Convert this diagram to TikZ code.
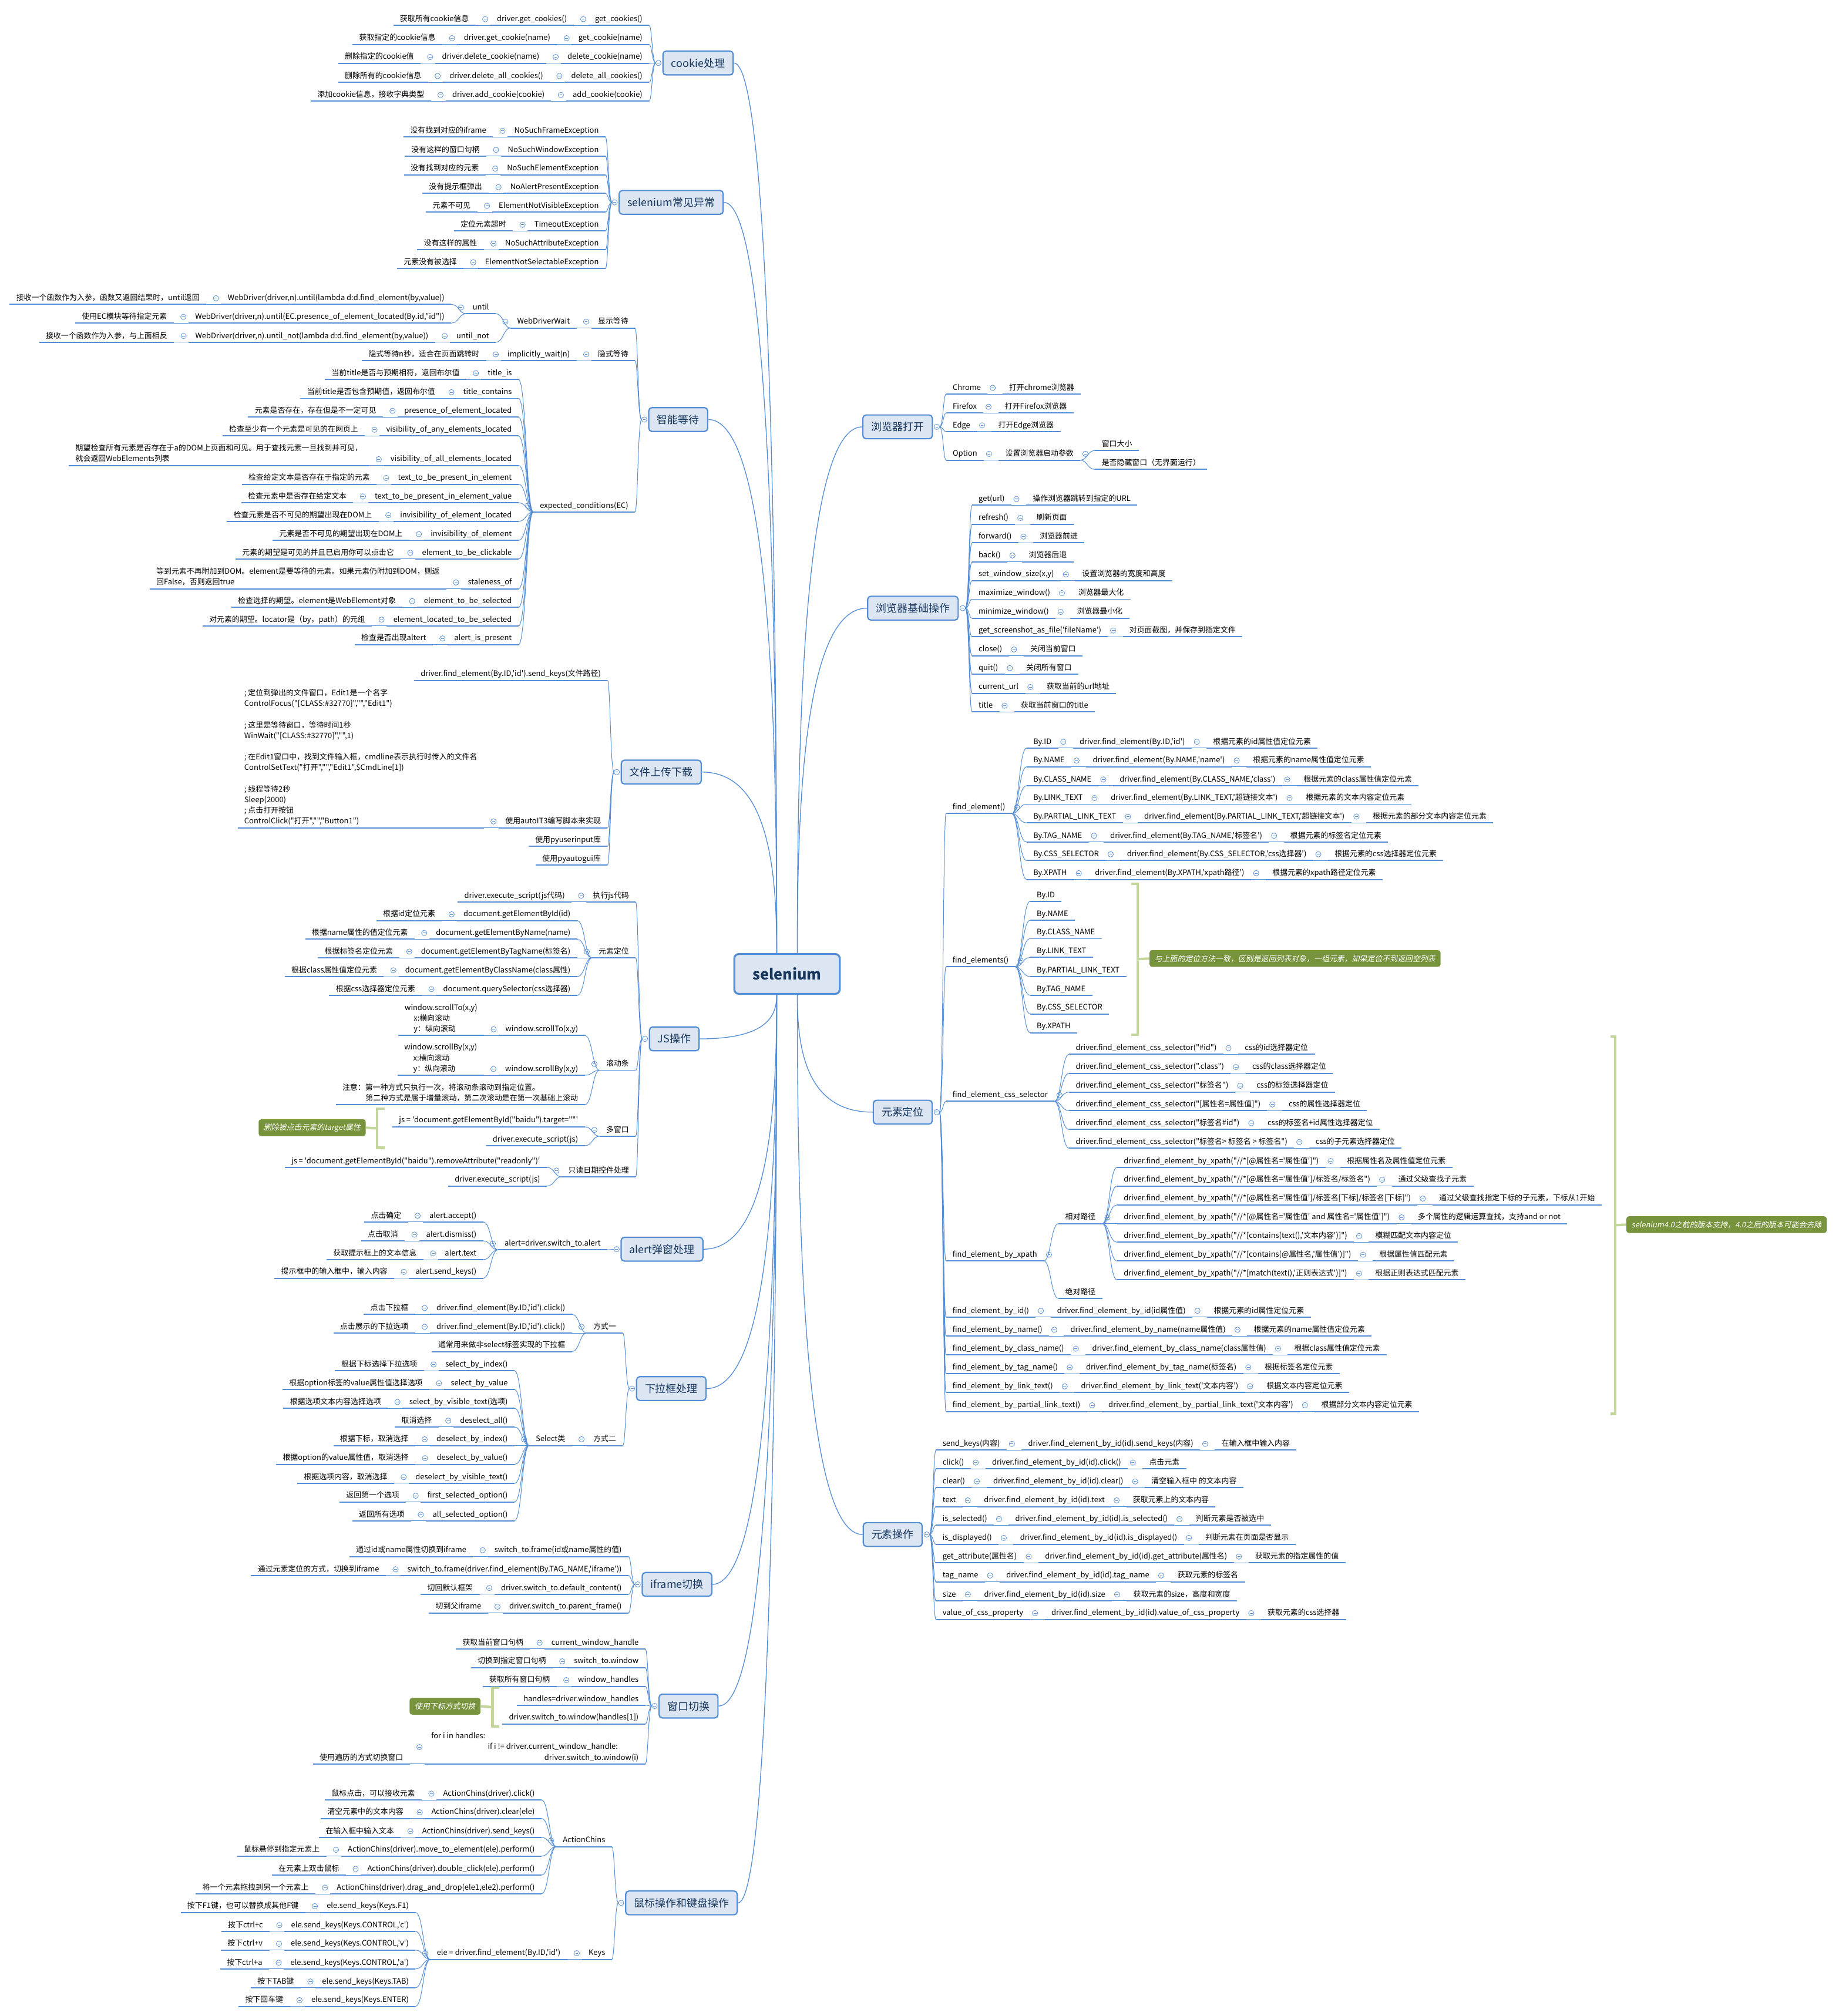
\documentclass[tikz,border=0pt]{standalone}
\usepackage{fontspec}
\newfontfamily\cjk{Noto Sans CJK SC}
\newfontfamily\cjki{Noto Sans CJK SC}[FakeSlant=0.2]
\definecolor{ln}{RGB}{83,141,213}
\definecolor{bfill}{RGB}{220,230,242}
\definecolor{btext}{RGB}{23,54,93}
\definecolor{gfill}{RGB}{119,147,60}
\definecolor{brc}{RGB}{195,214,155}
\newcommand\ms{\rule[-1.4pt]{0pt}{6.3pt}}
\newcommand\nl{\\\ms}
\tikzset{
 mmtext/.style={font=\cjk\fontsize{5.9}{8.3}\selectfont, inner xsep=5pt, inner ysep=1.5pt, align=left, text=black},
 mmul/.style={draw=ln, line width=0.9pt},
 mmcn/.style={draw=ln, line width=0.45pt},
 mmmain/.style={draw=ln, line width=0.6pt},
 mmcirc/.style={draw=ln, fill=white, line width=0.35pt},
 mmminus/.style={draw=ln, line width=0.35pt},
 mmbox/.style={draw=ln, line width=1pt, fill=bfill, rounded corners=2.5pt, font=\cjk\fontsize{8.2}{10}\selectfont, text=btext, inner xsep=6.5pt, minimum height=18.5pt},
 mmcbox/.style={draw=ln, line width=1.5pt, fill=bfill, rounded corners=3.5pt, font=\cjk\bfseries\fontsize{11.5}{13}\selectfont, text=btext, minimum width=82pt, minimum height=31pt},
 mmgbox/.style={fill=gfill, text=white, rounded corners=2pt, font=\cjki\fontsize{5.9}{8}\selectfont, inner xsep=4pt, minimum height=13pt},
 mmbrk/.style={draw=brc, line width=1.9pt},
}
\newcommand\cir[1]{\path #1 coordinate (cirtmp);\draw[mmcirc] (cirtmp) circle (2.1pt);\draw[mmminus] ([xshift=-1.1pt]cirtmp) -- ([xshift=1.1pt]cirtmp);}
\newcommand\LN[3]{\node[mmtext,anchor=south east] (#1) at #2 {\ms #3};\draw[mmul] (#1.south west)--(#1.south east);}
\newcommand\RN[3]{\node[mmtext,anchor=south west] (#1) at #2 {\ms #3};\draw[mmul] (#1.south west)--(#1.south east);}
\newcommand\LC[3]{\LN{#1}{([xshift=-11.5pt]#2.south west)}{#3}\draw[mmcn] (#1.south east)--(#2.south west);\cir{([xshift=-4pt]#2.west)}}
\newcommand\RC[3]{\RN{#1}{([xshift=11.5pt]#2.south east)}{#3}\draw[mmcn] (#2.south east)--(#1.south west);\cir{([xshift=4pt]#2.east)}}
\newcommand\BL[1]{\coordinate (#1-s) at ([xshift=-5.1pt]#1.west);\coordinate (#1-t) at ([xshift=-8pt]#1.west);\coordinate (#1-g) at ([xshift=-10.2pt]#1.west);\cir{([xshift=-3pt]#1.west)}}
\newcommand\BR[1]{\coordinate (#1-s) at ([xshift=5.1pt]#1.east);\coordinate (#1-t) at ([xshift=8pt]#1.east);\coordinate (#1-g) at ([xshift=10.2pt]#1.east);\cir{([xshift=3pt]#1.east)}}
\newcommand\NL[1]{\coordinate (#1-s) at (#1.south west);\coordinate (#1-t) at ([xshift=-5.5pt]#1.south west);\coordinate (#1-g) at ([xshift=-11.5pt]#1.south west);\cir{([xshift=-4pt]#1.west)}}
\newcommand\NR[1]{\coordinate (#1-s) at (#1.south east);\coordinate (#1-t) at ([xshift=5.5pt]#1.south east);\coordinate (#1-g) at ([xshift=11.5pt]#1.south east);\cir{([xshift=4pt]#1.east)}}
\newcommand\GL[4]{\LN{#2}{(#1-g |- 0,#3)}{#4}\draw[mmcn] (#1-s) .. controls (#1-s -| #1-t) and (#2.south east -| #1-t) .. (#2.south east);}
\newcommand\GR[4]{\RN{#2}{(#1-g |- 0,#3)}{#4}\draw[mmcn] (#1-s) .. controls (#1-s -| #1-t) and (#2.south west -| #1-t) .. (#2.south west);}
\newcommand\GLb[5]{\GL{#1}{#2}{#3}{#4}\LC{#2a}{#2}{#5}}
\newcommand\GLc[6]{\GL{#1}{#2}{#3}{#4}\LC{#2a}{#2}{#5}\LC{#2b}{#2a}{#6}}
\newcommand\GRb[5]{\GR{#1}{#2}{#3}{#4}\RC{#2a}{#2}{#5}}
\newcommand\GRc[6]{\GR{#1}{#2}{#3}{#4}\RC{#2a}{#2}{#5}\RC{#2b}{#2a}{#6}}
\begin{document}
\catcode`\_=12
\begin{tikzpicture}[x=1pt,y=-1pt]
\useasboundingbox (0,0) rectangle (1430,1568);
\fill[white] (0,0) rectangle (1430,1568);
\node[mmcbox] (sel) at (612,757.5) {selenium};
\coordinate (la) at ([xshift=-8pt]sel.north);
\coordinate (ra) at ([xshift=8pt]sel.north);
\coordinate (lb) at ([xshift=-8pt]sel.south);
\coordinate (rb) at ([xshift=8pt]sel.south);
% ---------- level-1 boxes
\node[mmbox,anchor=west] (ck) at (515,49) {cookie处理};
\node[mmbox,anchor=west] (ex) at (481,157.4) {selenium常见异常};
\node[mmbox,anchor=west] (wt) at (504,326.3) {智能等待};
\node[mmbox,anchor=west] (fu) at (482.6,600.5) {文件上传下载};
\node[mmbox,anchor=west] (js) at (504.5,808) {JS操作};
\node[mmbox,anchor=west] (al) at (482.5,971.6) {alert弹窗处理};
\node[mmbox,anchor=west] (dd) at (494.5,1080) {下拉框处理};
\node[mmbox,anchor=west] (if) at (498.9,1232.3) {iframe切换};
\node[mmbox,anchor=west] (wd) at (512,1326.9) {窗口切换};
\node[mmbox,anchor=west] (ms) at (486,1480) {鼠标操作和键盘操作};
\node[mmbox,anchor=east] (bo) at (725.5,332) {浏览器打开};
\node[mmbox,anchor=east] (bb) at (745.6,473) {浏览器基础操作};
\node[mmbox,anchor=east] (el) at (725.4,865) {元素定位};
\node[mmbox,anchor=east] (eo) at (717.6,1193.5) {元素操作};
% ---------- main connectors
\draw[mmmain] (ck.east) .. controls (598,49) and (604,430) .. (la);
\draw[mmmain] (ex.east) .. controls (598,157.4) and (604,479) .. (la);
\draw[mmmain] (wt.east) .. controls (598,326.3) and (604,555) .. (la);
\draw[mmmain] (fu.east) .. controls (598,600.5) and (604,678) .. (la);
\draw[mmmain] (js.east) .. controls (598,808) and (604,789) .. (lb);
\draw[mmmain] (al.east) .. controls (598,971.6) and (604,862) .. (lb);
\draw[mmmain] (dd.east) .. controls (598,1080) and (604,911) .. (lb);
\draw[mmmain] (if.east) .. controls (598,1232.3) and (604,980) .. (lb);
\draw[mmmain] (wd.east) .. controls (598,1326.9) and (604,1022) .. (lb);
\draw[mmmain] (ms.east) .. controls (598,1480) and (604,1091) .. (lb);
\draw[mmmain] (bo.west) .. controls (626,332) and (620,557) .. (ra);
\draw[mmmain] (bb.west) .. controls (626,473) and (620,621) .. (ra);
\draw[mmmain] (el.west) .. controls (626,865) and (620,814) .. (rb);
\draw[mmmain] (eo.west) .. controls (626,1193.5) and (620,962) .. (rb);
% ---------- cookie
\BL{ck}
\GLc{ck}{ckA}{19.8}{get_cookies()}{driver.get_cookies()}{获取所有cookie信息}
\GLc{ck}{ckB}{34.6}{get_cookie(name)}{driver.get_cookie(name)}{获取指定的cookie信息}
\GLc{ck}{ckC}{49.2}{delete_cookie(name)}{driver.delete_cookie(name)}{删除指定的cookie值}
\GLc{ck}{ckD}{64.0}{delete_all_cookies()}{driver.delete_all_cookies()}{删除所有的cookie信息}
\GLc{ck}{ckE}{78.7}{add_cookie(cookie)}{driver.add_cookie(cookie)}{添加cookie信息，接收字典类型}
% ---------- exceptions
\BL{ex}
\GLb{ex}{exA}{106.6}{NoSuchFrameException}{没有找到对应的iframe}
\GLb{ex}{exB}{121.4}{NoSuchWindowException}{没有这样的窗口句柄}
\GLb{ex}{exC}{136.0}{NoSuchElementException}{没有找到对应的元素}
\GLb{ex}{exD}{150.4}{NoAlertPresentException}{没有提示框弹出}
\GLb{ex}{exE}{164.9}{ElementNotVisibleException}{元素不可见}
\GLb{ex}{exF}{179.7}{TimeoutException}{定位元素超时}
\GLb{ex}{exG}{194.3}{NoSuchAttributeException}{没有这样的属性}
\GLb{ex}{exH}{208.9}{ElementNotSelectableException}{元素没有被选择}
% ---------- wait
\BL{wt}
\GLb{wt}{wtA}{255.1}{显示等待}{WebDriverWait}
\NL{wtAa}
\GL{wtAa}{wu}{244}{until}
\NL{wu}
\GLb{wu}{wuA}{236.8}{WebDriver(driver,n).until(lambda d:d.find_element(by,value))}{接收一个函数作为入参，函数又返回结果时，until返回}
\GLb{wu}{wuB}{251.3}{WebDriver(driver,n).until(EC.presence_of_element_located(By.id,"id"))}{使用EC模块等待指定元素}
\GLc{wtAa}{wn}{266.2}{until_not}{WebDriver(driver,n).until_not(lambda d:d.find_element(by,value))}{接收一个函数作为入参，与上面相反}
\GLc{wt}{wtB}{280.5}{隐式等待}{implicitly_wait(n)}{隐式等待n秒，适合在页面跳转时}
\GL{wt}{ec}{398.2}{expected_conditions(EC)}
\NL{ec}
\GLb{ec}{ecA}{295.1}{title_is}{当前title是否与预期相符，返回布尔值}
\GLb{ec}{ecB}{309.9}{title_contains}{当前title是否包含预期值，返回布尔值}
\GLb{ec}{ecC}{324.4}{presence_of_element_located}{元素是否存在，存在但是不一定可见}
\GLb{ec}{ecD}{339.1}{visibility_of_any_elements_located}{检查至少有一个元素是可见的在网页上}
\GLb{ec}{ecE}{362.0}{visibility_of_all_elements_located}{期望检查所有元素是否存在于a的DOM上页面和可见。用于查找元素一旦找到并可见，\nl 就会返回WebElements列表}
\GLb{ec}{ecF}{376.6}{text_to_be_present_in_element}{检查给定文本是否存在于指定的元素}
\GLb{ec}{ecG}{391.0}{text_to_be_present_in_element_value}{检查元素中是否存在给定文本}
\GLb{ec}{ecH}{405.5}{invisibility_of_element_located}{检查元素是否不可见的期望出现在DOM上}
\GLb{ec}{ecI}{420.3}{invisibility_of_element}{元素是否不可见的期望出现在DOM上}
\GLb{ec}{ecJ}{434.8}{element_to_be_clickable}{元素的期望是可见的并且已启用你可以点击它}
\GLb{ec}{ecK}{457.9}{staleness_of}{等到元素不再附加到DOM。element是要等待的元素。如果元素仍附加到DOM，则返\nl 回False，否则返回true}
\GLb{ec}{ecL}{472.4}{element_to_be_selected}{检查选择的期望。element是WebElement对象}
\GLb{ec}{ecM}{486.8}{element_located_to_be_selected}{对元素的期望。locator是（by，path）的元组}
\GLb{ec}{ecN}{501.4}{alert_is_present}{检查是否出现altert}
% ---------- file upload
\BL{fu}
\GL{fu}{fuA}{529.2}{driver.find_element(By.ID,'id').send_keys(文件路径)}
\GLb{fu}{fuB}{643.8}{使用autoIT3编写脚本来实现}{; 定位到弹出的文件窗口，Edit1是一个名字\nl ControlFocus("[CLASS:\#32770]","","Edit1")\nl\nl ; 这里是等待窗口，等待时间1秒\nl WinWait("[CLASS:\#32770]","",1)\nl\nl ; 在Edit1窗口中，找到文件输入框，cmdline表示执行时传入的文件名\nl ControlSetText("打开","","Edit1",\$CmdLine[1])\nl\nl ; 线程等待2秒\nl Sleep(2000)\nl ; 点击打开按钮\nl ControlClick("打开","","Button1")}
\GL{fu}{fuC}{658.3}{使用pyuserinput库}
\GL{fu}{fuD}{672.8}{使用pyautogui库}
% ---------- JS
\BL{js}
\GLb{js}{jsA}{701.5}{执行js代码}{driver.execute_script(js代码)}
\GL{js}{jsB}{745.0}{元素定位}
\NL{jsB}
\GLb{jsB}{jbA}{716.0}{document.getElementById(id)}{根据id定位元素}
\GLb{jsB}{jbB}{730.5}{document.getElementByName(name)}{根据name属性的值定位元素}
\GLb{jsB}{jbC}{745.0}{document.getElementByTagName(标签名)}{根据标签名定位元素}
\GLb{jsB}{jbD}{759.6}{document.getElementByClassName(class属性)}{根据class属性值定位元素}
\GLb{jsB}{jbE}{774.2}{document.querySelector(css选择器)}{根据css选择器定位元素}
\GL{js}{jsC}{832.4}{滚动条}
\NL{jsC}
\GLb{jsC}{jcA}{805.4}{window.scrollTo(x,y)}{window.scrollTo(x,y)\nl\hspace*{7pt}x:横向滚动\nl\hspace*{7pt}y：纵向滚动}
\GLb{jsC}{jcB}{836.3}{window.scrollBy(x,y)}{window.scrollBy(x,y)\nl\hspace*{7pt}x:横向滚动\nl\hspace*{7pt}y：纵向滚动}
\GL{jsC}{jcC}{859.2}{注意：第一种方式只执行一次，将滚动条滚动到指定位置。\nl\hspace*{18pt}第二种方式是属于增量滚动，第二次滚动是在第一次基础上滚动}
\GL{js}{jsD}{883.7}{多窗口}
\NL{jsD}
\GL{jsD}{jdA}{876.4}{js = 'document.getElementById("baidu").target=""'}
\GL{jsD}{jdB}{891.1}{driver.execute_script(js)}
\GL{js}{jsE}{915.3}{只读日期控件处理}
\NL{jsE}
\GL{jsE}{jeA}{908.0}{js = 'document.getElementById("baidu").removeAttribute("readonly")'}
\GL{jsE}{jeB}{922.5}{driver.execute_script(js)}
\node[mmgbox,anchor=east] (gA) at (284.6,877.1) {删除被点击元素的target属性};
\coordinate (gAb) at (293.1,877.6);
\draw[mmbrk] (299,862.5) -- (293.1,862.5) -- (293.1,892.7) -- (299,892.7);
\draw[mmbrk] (gA.east) -- (gAb);
% ---------- alert
\BL{al}
\GL{al}{alA}{972.1}{alert=driver.switch_to.alert}
\NL{alA}
\GLb{alA}{aaA}{950.4}{alert.accept()}{点击确定}
\GLb{alA}{aaB}{965.1}{alert.dismiss()}{点击取消}
\GLb{alA}{aaC}{979.7}{alert.text}{获取提示框上的文本信息}
\GLb{alA}{aaD}{994.1}{alert.send_keys()}{提示框中的输入框中，输入内容}
% ---------- dropdown
\BL{dd}
\GL{dd}{ddA}{1036.8}{方式一}
\NL{ddA}
\GLb{ddA}{daA}{1022.2}{driver.find_element(By.ID,'id').click()}{点击下拉框}
\GLb{ddA}{daB}{1036.8}{driver.find_element(By.ID,'id').click()}{点击展示的下拉选项}
\GL{ddA}{daC}{1051.2}{通常用来做非select标签实现的下拉框}
\GLb{dd}{ddB}{1124.3}{方式二}{Select类}
\NL{ddBa}
\GLb{ddBa}{slA}{1066.1}{select_by_index()}{根据下标选择下拉选项}
\GLb{ddBa}{slB}{1080.7}{select_by_value}{根据option标签的value属性值选择选项}
\GLb{ddBa}{slC}{1095.3}{select_by_visible_text(选项)}{根据选项文本内容选择选项}
\GLb{ddBa}{slD}{1109.8}{deselect_all()}{取消选择}
\GLb{ddBa}{slE}{1124.3}{deselect_by_index()}{根据下标，取消选择}
\GLb{ddBa}{slF}{1139.0}{deselect_by_value()}{根据option的value属性值，取消选择}
\GLb{ddBa}{slG}{1153.7}{deselect_by_visible_text()}{根据选项内容，取消选择}
\GLb{ddBa}{slH}{1168.2}{first_selected_option()}{返回第一个选项}
\GLb{ddBa}{slI}{1182.9}{all_selected_option()}{返回所有选项}
% ---------- iframe
\BL{if}
\GLb{if}{ifA}{1210.6}{switch_to.frame(id或name属性的值)}{通过id或name属性切换到iframe}
\GLb{if}{ifB}{1225.4}{switch_to.frame(driver.find_element(By.TAG_NAME,'iframe'))}{通过元素定位的方式，切换到iframe}
\GLb{if}{ifC}{1240.0}{driver.switch_to.default_content()}{切回默认框架}
\GLb{if}{ifD}{1254.5}{driver.switch_to.parent_frame()}{切到父iframe}
% ---------- window
\BL{wd}
\GLb{wd}{wdA}{1282.5}{current_window_handle}{获取当前窗口句柄}
\GLb{wd}{wdB}{1297.0}{switch_to.window}{切换到指定窗口句柄}
\GLb{wd}{wdC}{1311.6}{window_handles}{获取所有窗口句柄}
\GL{wd}{wdD}{1326.3}{handles=driver.window_handles}
\GL{wd}{wdE}{1340.8}{driver.switch_to.window(handles[1])}
\GLb{wd}{wdF}{1372.0}{for i in handles:\nl\hspace*{44pt}if i != driver.current_window_handle:\nl\hspace*{88pt}driver.switch_to.window(i)}{使用遍历的方式切换窗口}
\node[mmgbox,anchor=east] (gB) at (373.9,1327.1) {使用下标方式切换};
\coordinate (gBb) at (383,1327.7);
\draw[mmbrk] (388.3,1312.6) -- (383,1312.6) -- (383,1342.8) -- (388.3,1342.8);
\draw[mmbrk] (gB.east) -- (gBb);
% ---------- mouse / keyboard
\BL{ms}
\GL{ms}{msA}{1436.3}{ActionChins}
\NL{msA}
\GLb{msA}{maA}{1399.9}{ActionChins(driver).click()}{鼠标点击，可以接收元素}
\GLb{msA}{maB}{1414.4}{ActionChins(driver).clear(ele)}{清空元素中的文本内容}
\GLb{msA}{maC}{1429.1}{ActionChins(driver).send_keys()}{在输入框中输入文本}
\GLb{msA}{maD}{1443.6}{ActionChins(driver).move_to_element(ele).perform()}{鼠标悬停到指定元素上}
\GLb{msA}{maE}{1458.4}{ActionChins(driver).double_click(ele).perform()}{在元素上双击鼠标}
\GLb{msA}{maF}{1473.0}{ActionChins(driver).drag_and_drop(ele1,ele2).perform()}{将一个元素拖拽到另一个元素上}
\GLb{ms}{msB}{1524.0}{Keys}{ele = driver.find_element(By.ID,'id')}
\NL{msBa}
\GLb{msBa}{kyA}{1487.4}{ele.send_keys(Keys.F1)}{按下F1键，也可以替换成其他F键}
\GLb{msBa}{kyB}{1502.2}{ele.send_keys(Keys.CONTROL,'c')}{按下ctrl+c}
\GLb{msBa}{kyC}{1516.7}{ele.send_keys(Keys.CONTROL,'v')}{按下ctrl+v}
\GLb{msBa}{kyD}{1531.4}{ele.send_keys(Keys.CONTROL,'a')}{按下ctrl+a}
\GLb{msBa}{kyE}{1546.0}{ele.send_keys(Keys.TAB)}{按下TAB键}
\GLb{msBa}{kyF}{1560.5}{ele.send_keys(Keys.ENTER)}{按下回车键}
% ---------- browser open
\BR{bo}
\GRb{bo}{boA}{306.5}{Chrome}{打开chrome浏览器}
\GRb{bo}{boB}{321.2}{Firefox}{打开Firefox浏览器}
\GRb{bo}{boC}{335.7}{Edge}{打开Edge浏览器}
\GRb{bo}{boD}{357.9}{Option}{设置浏览器启动参数}
\NR{boDa}
\GR{boDa}{opA}{350.4}{窗口大小}
\GR{boDa}{opB}{365.1}{是否隐藏窗口（无界面运行）}
% ---------- browser basic
\BR{bb}
\GRb{bb}{bbA}{393.0}{get(url)}{操作浏览器跳转到指定的URL}
\GRb{bb}{bbB}{407.7}{refresh()}{刷新页面}
\GRb{bb}{bbC}{422.2}{forward()}{浏览器前进}
\GRb{bb}{bbD}{436.9}{back()}{浏览器后退}
\GRb{bb}{bbE}{451.6}{set_window_size(x,y)}{设置浏览器的宽度和高度}
\GRb{bb}{bbF}{466.1}{maximize_window()}{浏览器最大化}
\GRb{bb}{bbG}{480.8}{minimize_window()}{浏览器最小化}
\GRb{bb}{bbH}{495.3}{get_screenshot_as_file('fileName')}{对页面截图，并保存到指定文件}
\GRb{bb}{bbI}{510.0}{close()}{关闭当前窗口}
\GRb{bb}{bbJ}{524.5}{quit()}{关闭所有窗口}
\GRb{bb}{bbK}{539.2}{current_url}{获取当前的url地址}
\GRb{bb}{bbL}{553.7}{title}{获取当前窗口的title}
% ---------- element locate
\BR{el}
\GR{el}{fe}{632.8}{find_element()}
\NR{fe}
\GRc{fe}{feA}{581.8}{By.ID}{driver.find_element(By.ID,'id')}{根据元素的id属性值定位元素}
\GRc{fe}{feB}{596.4}{By.NAME}{driver.find_element(By.NAME,'name')}{根据元素的name属性值定位元素}
\GRc{fe}{feC}{611.1}{By.CLASS_NAME}{driver.find_element(By.CLASS_NAME,'class')}{根据元素的class属性值定位元素}
\GRc{fe}{feD}{625.5}{By.LINK_TEXT}{driver.find_element(By.LINK_TEXT,'超链接文本')}{根据元素的文本内容定位元素}
\GRc{fe}{feE}{640.0}{By.PARTIAL_LINK_TEXT}{driver.find_element(By.PARTIAL_LINK_TEXT,'超链接文本')}{根据元素的部分文本内容定位元素}
\GRc{fe}{feF}{654.9}{By.TAG_NAME}{driver.find_element(By.TAG_NAME,'标签名')}{根据元素的标签名定位元素}
\GRc{fe}{feG}{669.3}{By.CSS_SELECTOR}{driver.find_element(By.CSS_SELECTOR,'css选择器')}{根据元素的css选择器定位元素}
\GRc{fe}{feH}{684.0}{By.XPATH}{driver.find_element(By.XPATH,'xpath路径')}{根据元素的xpath路径定位元素}
\GR{el}{fs}{752.0}{find_elements()}
\NR{fs}
\GR{fs}{fsA}{701.0}{By.ID}
\GR{fs}{fsB}{715.7}{By.NAME}
\GR{fs}{fsC}{730.1}{By.CLASS_NAME}
\GR{fs}{fsD}{744.7}{By.LINK_TEXT}
\GR{fs}{fsE}{759.5}{By.PARTIAL_LINK_TEXT}
\GR{fs}{fsF}{774.1}{By.TAG_NAME}
\GR{fs}{fsG}{788.6}{By.CSS_SELECTOR}
\GR{fs}{fsH}{803.2}{By.XPATH}
\node[mmgbox,anchor=west] (gC) at (893.7,745.5) {与上面的定位方法一致，区别是返回列表对象，一组元素，如果定位不到返回空列表};
\coordinate (gCb) at (884.7,746);
\draw[mmbrk] (879.8,687.3) -- (884.7,687.3) -- (884.7,804.7) -- (879.8,804.7);
\draw[mmbrk] (gCb) -- (gC.west);
\GR{el}{fc}{856.6}{find_element_css_selector}
\NR{fc}
\GRb{fc}{fcA}{820.0}{driver.find_element_css_selector("\#id")}{css的id选择器定位}
\GRb{fc}{fcB}{834.8}{driver.find_element_css_selector(".class")}{css的class选择器定位}
\GRb{fc}{fcC}{849.4}{driver.find_element_css_selector("标签名")}{css的标签选择器定位}
\GRb{fc}{fcD}{863.9}{driver.find_element_css_selector("[属性名=属性值]")}{css的属性选择器定位}
\GRb{fc}{fcE}{878.5}{driver.find_element_css_selector("标签名\#id")}{css的标签名+id属性选择器定位}
\GRb{fc}{fcF}{893.1}{driver.find_element_css_selector("标签名> 标签名 > 标签名")}{css的子元素选择器定位}
\GR{el}{fx}{980.7}{find_element_by_xpath}
\NR{fx}
\GR{fx}{fxr}{951.7}{相对路径}
\NR{fxr}
\GRb{fxr}{xrA}{907.9}{driver.find_element_by_xpath("//*[@属性名='属性值']")}{根据属性名及属性值定位元素}
\GRb{fxr}{xrB}{922.5}{driver.find_element_by_xpath("//*[@属性名='属性值']/标签名/标签名")}{通过父级查找子元素}
\GRb{fxr}{xrC}{937.1}{driver.find_element_by_xpath("//*[@属性名='属性值']/标签名[下标]/标签名[下标]")}{通过父级查找指定下标的子元素，下标从1开始}
\GRb{fxr}{xrD}{951.7}{driver.find_element_by_xpath("//*[@属性名='属性值' and 属性名='属性值']")}{多个属性的逻辑运算查找，支持and or not}
\GRb{fxr}{xrE}{966.2}{driver.find_element_by_xpath("//*[contains(text(),'文本内容')]")}{模糊匹配文本内容定位}
\GRb{fxr}{xrF}{980.8}{driver.find_element_by_xpath("//*[contains(@属性名,'属性值')]")}{根据属性值匹配元素}
\GRb{fxr}{xrG}{995.4}{driver.find_element_by_xpath("//*[match(text(),'正则表达式')]")}{根据正则表达式匹配元素}
\GR{fx}{fxa}{1009.9}{绝对路径}
\GRc{el}{fbA}{1024.4}{find_element_by_id()}{driver.find_element_by_id(id属性值)}{根据元素的id属性定位元素}
\GRc{el}{fbB}{1039.1}{find_element_by_name()}{driver.find_element_by_name(name属性值)}{根据元素的name属性值定位元素}
\GRc{el}{fbC}{1053.8}{find_element_by_class_name()}{driver.find_element_by_class_name(class属性值)}{根据class属性值定位元素}
\GRc{el}{fbD}{1068.4}{find_element_by_tag_name()}{driver.find_element_by_tag_name(标签名)}{根据标签名定位元素}
\GRc{el}{fbE}{1083.1}{find_element_by_link_text()}{driver.find_element_by_link_text('文本内容')}{根据文本内容定位元素}
\GRc{el}{fbF}{1097.8}{find_element_by_partial_link_text()}{driver.find_element_by_partial_link_text('文本内容')}{根据部分文本内容定位元素}
\node[mmgbox,anchor=west] (gD) at (1264.5,952.5) {selenium4.0之前的版本支持，4.0之后的版本可能会去除};
\coordinate (gDb) at (1256,952.9);
\draw[mmbrk] (1252.4,806.3) -- (1256,806.3) -- (1256,1099.6) -- (1252.4,1099.6);
\draw[mmbrk] (gDb) -- (gD.west);
% ---------- element operations
\BR{eo}
\GRc{eo}{eoA}{1127.9}{send_keys(内容)}{driver.find_element_by_id(id).send_keys(内容)}{在输入框中输入内容}
\GRc{eo}{eoB}{1142.4}{click()}{driver.find_element_by_id(id).click()}{点击元素}
\GRc{eo}{eoC}{1157.1}{clear()}{driver.find_element_by_id(id).clear()}{清空输入框中 的文本内容}
\GRc{eo}{eoD}{1171.8}{text}{driver.find_element_by_id(id).text}{获取元素上的文本内容}
\GRc{eo}{eoE}{1186.3}{is_selected()}{driver.find_element_by_id(id).is_selected()}{判断元素是否被选中}
\GRc{eo}{eoF}{1201.0}{is_displayed()}{driver.find_element_by_id(id).is_displayed()}{判断元素在页面是否显示}
\GRc{eo}{eoG}{1215.6}{get_attribute(属性名)}{driver.find_element_by_id(id).get_attribute(属性名)}{获取元素的指定属性的值}
\GRc{eo}{eoH}{1230.3}{tag_name}{driver.find_element_by_id(id).tag_name}{获取元素的标签名}
\GRc{eo}{eoI}{1245.0}{size}{driver.find_element_by_id(id).size}{获取元素的size，高度和宽度}
\GRc{eo}{eoJ}{1259.5}{value_of_css_property}{driver.find_element_by_id(id).value_of_css_property}{获取元素的css选择器}
\end{tikzpicture}
\end{document}
